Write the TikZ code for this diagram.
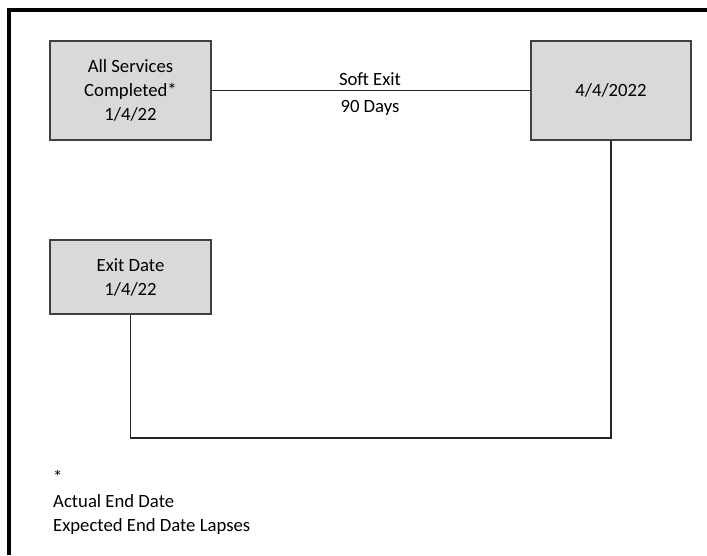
\documentclass[tikz,border=0pt]{standalone}
\usepackage{fontspec}
\setmainfont{Carlito}
\usepackage{tikz}
\usetikzlibrary{positioning}
\definecolor{boxfill}{RGB}{217,217,217}
\definecolor{boxline}{RGB}{64,64,64}
\definecolor{linkline}{RGB}{38,38,38}
\tikzset{
  datebox/.style={draw=boxline, fill=boxfill, line width=1.3pt, align=center,
    inner sep=0pt, font=\fontsize{18.7}{24}\selectfont},
  link/.style={draw=linkline, line width=1.2pt},
  lbl/.style={inner sep=0pt, font=\fontsize{18.7}{24}\selectfont, align=center},
  frameline/.style={line width=4pt, black}
}
\begin{document}
\begin{tikzpicture}[x=1pt, y=-1pt]
  \useasboundingbox (0,0) rectangle (707,555);
  % page frame (left and top only)
  \draw[frameline] (9,555) -- (9,10) -- (707,10);
  % date boxes
  \node[datebox, minimum width=161pt, minimum height=99pt] (done) at (130.5,90.5)
    {All Services\\Completed*\\1/4/22};
  \node[datebox, minimum width=160pt, minimum height=99pt] (soft) at (611,90.5)
    {4/4/2022};
  \node[datebox, minimum width=161pt, minimum height=74pt] (exit) at (130.5,277)
    {Exit Date\\1/4/22};
  % soft exit window
  \draw[link] (done) -- (soft);
  \node[lbl] (softlbl) at (370,79) {Soft Exit};
  \node[lbl, below=14pt of softlbl] (dayslbl) {90 Days};
  % back to the exit date
  \coordinate (turnA) at (130.5,438);
  \coordinate (turnB) at (611,438);
  \draw[link] (exit.south) -- (turnA) -- (turnB) -- (soft.south);
  % footnote
  \node[lbl, align=left, anchor=north west] (note) at (53,470)
    {*\\Actual End Date\\Expected End Date Lapses};
\end{tikzpicture}
\end{document}
